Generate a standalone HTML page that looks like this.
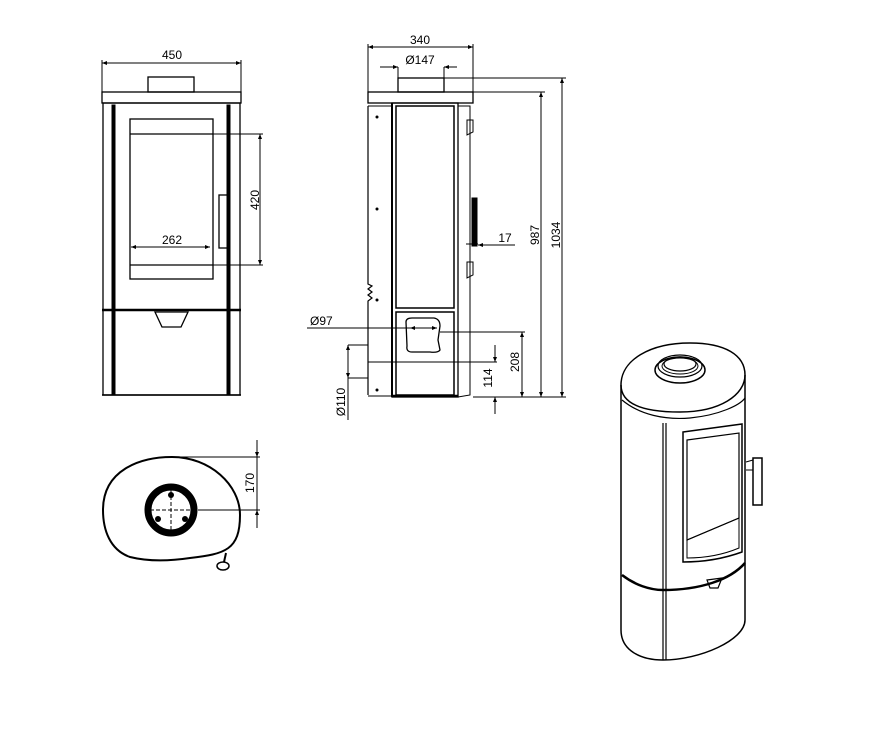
<!DOCTYPE html>
<html><head><meta charset="utf-8"><style>
html,body{margin:0;padding:0;background:#fff;}
svg{display:block;}
text{font-family:"Liberation Sans",sans-serif;font-size:12px;fill:#000;}
</style></head><body>
<svg width="870" height="750" viewBox="0 0 870 750" xmlns="http://www.w3.org/2000/svg">
<defs>
<marker id="a" viewBox="0 0 10 10" refX="10" refY="5" markerWidth="7" markerHeight="5" orient="auto-start-reverse"><path d="M0,1 L10,5 L0,9 z" fill="#000"/></marker>
</defs>
<g fill="none" stroke="#000" stroke-width="1">
<!-- FRONT VIEW -->
<line x1="102" y1="60" x2="102" y2="92"/><line x1="241" y1="60" x2="241" y2="92"/>
<line x1="102" y1="63" x2="241" y2="63" marker-start="url(#a)" marker-end="url(#a)"/>
<rect x="148" y="77" width="46" height="15" stroke-width="1.3"/>
<rect x="102" y="92" width="139" height="11" stroke-width="1.3"/>
<rect x="103" y="103" width="137" height="292" stroke-width="1.3"/>
<rect x="112" y="105" width="3" height="290" fill="#000"/>
<rect x="227" y="105" width="3" height="290" fill="#000"/>
<line x1="102" y1="310" x2="241" y2="310" stroke-width="2.5"/>
<line x1="102" y1="395" x2="241" y2="395" stroke-width="1.5"/>
<rect x="130" y="119" width="83" height="160" stroke-width="1.3"/>
<line x1="130" y1="134" x2="213" y2="134" stroke-width="1.3"/>
<line x1="130" y1="265" x2="213" y2="265" stroke-width="1.3"/>
<rect x="219" y="195" width="9" height="53" stroke-width="1.3"/>
<line x1="131" y1="247" x2="210" y2="247" marker-start="url(#a)" marker-end="url(#a)"/>
<line x1="213" y1="134" x2="263" y2="134"/><line x1="213" y1="265" x2="263" y2="265"/>
<line x1="260" y1="134" x2="260" y2="265" marker-start="url(#a)" marker-end="url(#a)"/>
<path d="M155,312 L188,312 L181,327 L162,327 Z" stroke-width="1.3"/>
<!-- SIDE VIEW -->
<line x1="368" y1="44" x2="368" y2="92"/><line x1="473" y1="44" x2="473" y2="92"/>
<line x1="368" y1="47" x2="473" y2="47" marker-start="url(#a)" marker-end="url(#a)"/>
<line x1="380" y1="67" x2="398" y2="67" marker-end="url(#a)"/>
<line x1="457" y1="67" x2="444" y2="67" marker-end="url(#a)"/>
<line x1="398" y1="67" x2="398" y2="78"/><line x1="444" y1="67" x2="444" y2="78"/>
<rect x="398" y="78" width="46" height="14" stroke-width="1.3"/>
<rect x="368" y="92" width="105" height="11" stroke-width="1.3"/>
<path d="M368,106 L368,284 L372,286 L368,289 L372,292 L368,295 L372,298 L368,301 L368,395" stroke-width="1.2"/>
<line x1="368" y1="106" x2="392" y2="106"/>
<line x1="368" y1="396" x2="392" y2="396"/>
<rect x="392" y="103" width="66" height="294" stroke-width="1.3"/>
<line x1="392" y1="103" x2="392" y2="397" stroke-width="2"/>
<rect x="396" y="106" width="58" height="202" stroke-width="1.5"/>
<rect x="396" y="312" width="58" height="83" stroke-width="1.5"/>
<line x1="392" y1="396" x2="458" y2="396" stroke-width="2.5"/>
<path d="M458,106 L470,106 L470,395 L458,397"/>
<path d="M467,120 L473,120 L473,132 L467,135 Z"/>
<path d="M467,262 L473,262 L473,275 L467,278 Z"/>
<rect x="472" y="198" width="5" height="48" fill="#000"/>
<line x1="466" y1="244" x2="478" y2="244"/>
<path d="M406,322 Q406,318 412,318 L434,318 Q440,319 440,326 L438,340 L440,350 Q438,353 430,352 L412,352 Q406,352 407,346 Z" stroke-width="1.3"/>
<line x1="307" y1="328" x2="410" y2="328"/>
<line x1="410" y1="328" x2="437" y2="328" marker-start="url(#a)" marker-end="url(#a)"/>
<line x1="440" y1="332" x2="525" y2="332"/>
<line x1="522" y1="332" x2="522" y2="397" marker-start="url(#a)" marker-end="url(#a)"/>
<line x1="368" y1="362" x2="497" y2="362"/>
<line x1="495" y1="345" x2="495" y2="362" marker-end="url(#a)"/>
<line x1="495" y1="414" x2="495" y2="397" marker-end="url(#a)"/>
<line x1="348" y1="345" x2="368" y2="345"/><line x1="348" y1="378" x2="368" y2="378"/>
<line x1="348" y1="345" x2="348" y2="378" marker-start="url(#a)" marker-end="url(#a)"/>
<line x1="348" y1="378" x2="348" y2="420"/>
<line x1="473" y1="92" x2="545" y2="92"/>
<line x1="444" y1="78" x2="566" y2="78"/>
<line x1="473" y1="397" x2="566" y2="397"/>
<line x1="541" y1="92" x2="541" y2="397" marker-start="url(#a)" marker-end="url(#a)"/>
<line x1="562" y1="78" x2="562" y2="397" marker-start="url(#a)" marker-end="url(#a)"/>
<line x1="515" y1="245" x2="478" y2="245" marker-end="url(#a)"/>
<!-- TOP VIEW -->
<path d="M103,510 C103,470 140,457 172,457 C210,457 240,485 240,515 C240,550 225,554 190,558 C170,561 150,562 130,557 C110,550 103,530 103,510 Z" stroke-width="2"/>
<circle cx="171" cy="510" r="23" stroke-width="7"/>
<line x1="150" y1="510" x2="196" y2="510" stroke-dasharray="4,2"/>
<line x1="171" y1="490" x2="171" y2="530" stroke-dasharray="4,2"/>
<line x1="172" y1="457" x2="260" y2="457"/>
<line x1="198" y1="510" x2="260" y2="510"/>
<line x1="257" y1="440" x2="257" y2="457" marker-end="url(#a)"/>
<line x1="257" y1="528" x2="257" y2="510" marker-end="url(#a)"/>
<line x1="257" y1="457" x2="257" y2="510"/>
<line x1="226" y1="553" x2="224" y2="562" stroke-width="2"/>
<ellipse cx="223" cy="566" rx="6" ry="4" stroke-width="1.5"/>
<!-- 3D VIEW -->
<path d="M621,385 C621,360 650,343 690,343 C725,343 745,355 745,375 C745,395 720,412 680,412 C645,412 621,405 621,385 Z" stroke-width="1.5"/>
<path d="M621,385 L621,630 C621,650 640,660 663,660 C700,660 745,640 745,620 L745,375" stroke-width="1.5"/>
<path d="M622,400 C640,415 665,420 690,418 C720,415 740,405 745,398" stroke-width="1.2"/>
<ellipse cx="680" cy="370" rx="25" ry="13" stroke-width="1.5"/>
<ellipse cx="680" cy="366" rx="22" ry="11" stroke-width="1.2"/>
<ellipse cx="680" cy="364" rx="16" ry="7" stroke-width="1.2"/>
<ellipse cx="680" cy="366" rx="18" ry="8" stroke-width="1"/>
<line x1="663" y1="423" x2="663" y2="660" stroke-width="1.2"/>
<line x1="666" y1="423" x2="666" y2="660" stroke-width="1.2"/>
<path d="M683,432 L742,424 L742,552 C720,560 700,562 683,562 Z" stroke-width="1.5"/>
<path d="M687,440 L739,433 L739,518 L687,540 Z" stroke-width="1.2"/>
<path d="M687,540 L739,518 L739,548 C720,556 700,558 687,558 Z" stroke-width="1"/>
<rect x="753" y="458" width="9" height="47" stroke-width="1.5"/>
<path d="M746,462 L753,460 M746,470 L753,470"/>
<path d="M622,575 C635,585 650,590 663,590 C700,590 730,580 745,563" stroke-width="2.5"/>
<path d="M707,580 L722,578 L718,588 L710,588 Z" stroke-width="1.2"/>
</g>
<g>
<circle cx="377" cy="117" r="1.5"/><circle cx="377" cy="209" r="1.5"/><circle cx="377" cy="300" r="1.5"/><circle cx="377" cy="390" r="1.5"/>
<circle cx="171" cy="495" r="3"/><circle cx="158" cy="519" r="3"/><circle cx="185" cy="519" r="3"/>
</g>
<text x="172" y="59" text-anchor="middle">450</text>
<text x="172" y="244" text-anchor="middle">262</text>
<text transform="translate(259,200) rotate(-90)" text-anchor="middle">420</text>
<text x="420" y="44" text-anchor="middle">340</text>
<text x="420" y="64" text-anchor="middle">Ø147</text>
<text x="310" y="325">Ø97</text>
<text transform="translate(519,362) rotate(-90)" text-anchor="middle">208</text>
<text transform="translate(492,378) rotate(-90)" text-anchor="middle">114</text>
<text transform="translate(345,402) rotate(-90)" text-anchor="middle">Ø110</text>
<text transform="translate(539,235) rotate(-90)" text-anchor="middle">987</text>
<text transform="translate(560,235) rotate(-90)" text-anchor="middle">1034</text>
<text x="505" y="242" text-anchor="middle">17</text>
<text transform="translate(254,483) rotate(-90)" text-anchor="middle">170</text>
</svg>
</body></html>
